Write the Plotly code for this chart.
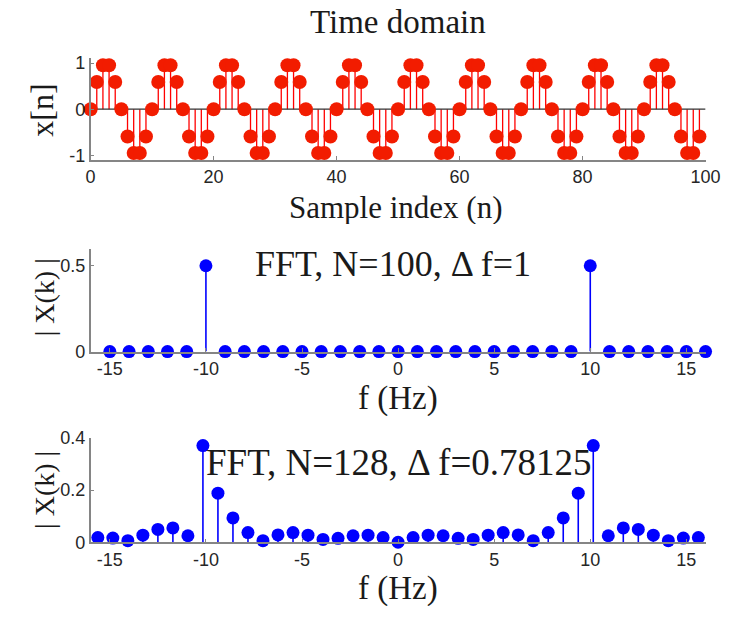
import plotly.graph_objects as go

# ---------------- data ----------------
n_index = list(range(100))
x_n = [
    0, 0.59, 0.95, 0.95, 0.59, 0, -0.59, -0.95, -0.95, -0.59,
    0, 0.59, 0.95, 0.95, 0.59, 0, -0.59, -0.95, -0.95, -0.59,
    0, 0.59, 0.95, 0.95, 0.59, 0, -0.59, -0.95, -0.95, -0.59,
    0, 0.59, 0.95, 0.95, 0.59, 0, -0.59, -0.95, -0.95, -0.59,
    0, 0.59, 0.95, 0.95, 0.59, 0, -0.59, -0.95, -0.95, -0.59,
    0, 0.59, 0.95, 0.95, 0.59, 0, -0.59, -0.95, -0.95, -0.59,
    0, 0.59, 0.95, 0.95, 0.59, 0, -0.59, -0.95, -0.95, -0.59,
    0, 0.59, 0.95, 0.95, 0.59, 0, -0.59, -0.95, -0.95, -0.59,
    0, 0.59, 0.95, 0.95, 0.59, 0, -0.59, -0.95, -0.95, -0.59,
    0, 0.59, 0.95, 0.95, 0.59, 0, -0.59, -0.95, -0.95, -0.59,
]

f_100 = [-15, -14, -13, -12, -11, -10, -9, -8, -7, -6, -5, -4, -3, -2, -1, 0,
         1, 2, 3, 4, 5, 6, 7, 8, 9, 10, 11, 12, 13, 14, 15, 16]
mag_100 = [0, 0, 0, 0, 0, 0.5, 0, 0, 0, 0, 0, 0, 0, 0, 0, 0,
           0, 0, 0, 0, 0, 0, 0, 0, 0, 0.5, 0, 0, 0, 0, 0, 0]

f_128 = [-15.625, -14.84375, -14.0625, -13.28125, -12.5, -11.71875, -10.9375,
         -10.15625, -9.375, -8.59375, -7.8125, -7.03125, -6.25, -5.46875,
         -4.6875, -3.90625, -3.125, -2.34375, -1.5625, -0.78125, 0,
         0.78125, 1.5625, 2.34375, 3.125, 3.90625, 4.6875, 5.46875, 6.25,
         7.03125, 7.8125, 8.59375, 9.375, 10.15625, 10.9375, 11.71875, 12.5,
         13.28125, 14.0625, 14.84375, 15.625]
mag_128 = [0.018, 0.016, 0.006, 0.027, 0.049, 0.055, 0.025, 0.37, 0.188, 0.093,
           0.037, 0.006, 0.028, 0.037, 0.027, 0.011, 0.015, 0.025, 0.027, 0.018,
           0.0,
           0.018, 0.027, 0.025, 0.015, 0.011, 0.027, 0.037, 0.028, 0.006, 0.037,
           0.093, 0.188, 0.37, 0.025, 0.055, 0.049, 0.027, 0.006, 0.016, 0.018]

top_xticks = [0, 20, 40, 60, 80, 100]
top_xlabels = ["0", "20", "40", "60", "80", "100"]
top_yticks = [-1, 0, 1]
top_ylabels = ["-1", "0", "1"]
f_ticks = [-15, -10, -5, 0, 5, 10, 15]
f_labels = ["-15", "-10", "-5", "0", "5", "10", "15"]
mid_yticks = [0, 0.5]
mid_ylabels = ["0", "0.5"]
bot_yticks = [0, 0.2, 0.4]
bot_ylabels = ["0", "0.2", "0.4"]

# ---------------- helpers ----------------
def stem_xy(xs, ys):
    sx, sy = [], []
    for a, b in zip(xs, ys):
        sx += [a, a, None]
        sy += [0, b, None]
    return sx, sy

W, H = 741, 620
def px_x(p):
    return p / W
def px_y(p):
    return 1 - p / H

SERIF = "Liberation Serif, Times New Roman, serif"
SANS = "Liberation Sans, Arial, sans-serif"
AXC = "#858585"
TXT = "#262626"

fig = go.Figure()

# Top: time domain
sx, sy = stem_xy(n_index, x_n)
fig.add_trace(go.Scatter(x=sx, y=sy, mode="lines", line=dict(color="#ff0000", width=1.3),
                         xaxis="x", yaxis="y", cliponaxis=False))
fig.add_trace(go.Scatter(x=[0, 100], y=[0, 0], mode="lines",
                         line=dict(color="#333333", width=1.2),
                         xaxis="x", yaxis="y", hoverinfo="skip"))
fig.add_trace(go.Scatter(x=n_index, y=x_n, mode="markers",
                         marker=dict(color="#f21c00", size=14, line=dict(width=0)),
                         xaxis="x", yaxis="y", cliponaxis=False))

# Middle: N=100
sx, sy = stem_xy(f_100, mag_100)
fig.add_trace(go.Scatter(x=sx, y=sy, mode="lines", line=dict(color="#0000ff", width=1.6),
                         xaxis="x2", yaxis="y2", cliponaxis=False))
fig.add_trace(go.Scatter(x=f_100, y=mag_100, mode="markers",
                         marker=dict(color="#0000ff", size=13, line=dict(width=0)),
                         xaxis="x2", yaxis="y2", cliponaxis=False))

# Bottom: N=128
sx, sy = stem_xy(f_128, mag_128)
fig.add_trace(go.Scatter(x=sx, y=sy, mode="lines", line=dict(color="#0000ff", width=1.6),
                         xaxis="x3", yaxis="y3", cliponaxis=False))
fig.add_trace(go.Scatter(x=f_128, y=mag_128, mode="markers",
                         marker=dict(color="#0000ff", size=13, line=dict(width=0)),
                         xaxis="x3", yaxis="y3", cliponaxis=False))

xdom = [px_x(88), px_x(720)]

def xax(anchor, rng, ticks, labels):
    return dict(domain=xdom, anchor=anchor, range=rng, tickvals=ticks, ticktext=labels,
                showgrid=False, zeroline=False, showline=True, linecolor=AXC,
                linewidth=1.5, ticks="inside", ticklen=4, tickcolor=AXC,
                tickfont=dict(family=SANS, size=18, color=TXT))

def yax(anchor, dom, rng, ticks, labels):
    return dict(domain=dom, anchor=anchor, range=rng, tickvals=ticks, ticktext=labels,
                showgrid=False, zeroline=False, showline=True, linecolor=AXC,
                linewidth=1.5, ticks="inside", ticklen=4, tickcolor=AXC,
                tickfont=dict(family=SANS, size=18, color=TXT))

fig.update_layout(
    width=W, height=H,
    margin=dict(l=0, r=0, t=0, b=0),
    paper_bgcolor="white", plot_bgcolor="white",
    showlegend=False,
    xaxis=xax("y", [0, 100], top_xticks, top_xlabels),
    yaxis=yax("x", [px_y(155), px_y(50)], [-1.1, 1.1], top_yticks, top_ylabels),
    xaxis2=xax("y2", [-16, 16], f_ticks, f_labels),
    yaxis2=yax("x2", [px_y(353), px_y(246.5)], [0, 0.6], mid_yticks, mid_ylabels),
    xaxis3=xax("y3", [-16, 16], f_ticks, f_labels),
    yaxis3=yax("x3", [px_y(550), px_y(442)], [0, 0.4], bot_yticks, bot_ylabels),
)

def ann(text, x, y, size, angle=0, height=None):
    d = dict(text=text, x=px_x(x), y=px_y(y), xref="paper", yref="paper",
             xanchor="center", yanchor="middle", showarrow=False, textangle=angle,
             font=dict(family=SERIF, size=size, color="#1a1a1a"))
    if height is not None:
        d["height"] = height
    return d

fig.update_layout(annotations=[
    ann("Time domain", 404, 12, 33),
    ann("Sample index (n)", 402, 204, 31, height=34),
    ann("x[n]", 38, 103, 32, -90),
    ann("f (Hz)", 404, 401, 33, height=36),
    ann("| X(k) |", 40, 297, 28, -90),
    ann("FFT, N=100, \u0394 f=1", 399, 262, 36),
    ann("f (Hz)", 404, 597, 33, height=36),
    ann("| X(k) |", 40, 496, 28, -90),
    ann("FFT, N=128, \u0394 f=0.78125", 405, 468, 37),
])

fig.write_html("out.html")
